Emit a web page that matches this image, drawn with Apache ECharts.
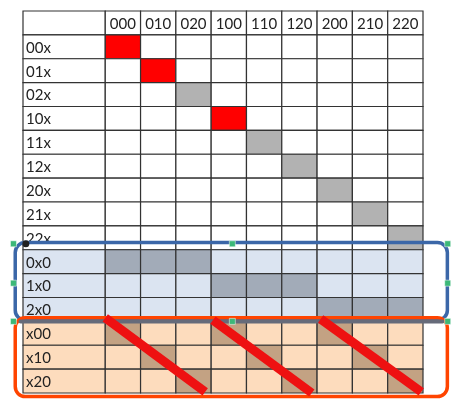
<!DOCTYPE html>
<html>
<head>
<meta charset="utf-8">
<script src="https://cdn.jsdelivr.net/npm/echarts@6/dist/echarts.min.js"></script>
<style>html,body{margin:0;padding:0;background:#fff}#main{width:460px;height:405px}</style>
</head>
<body>
<div id="main"></div>
<script>
// column headers and row labels of the table
var cols = ['000','010','020','100','110','120','200','210','220'];
var rows = ['00x','01x','02x','10x','11x','12x','20x','21x','22x','0x0','1x0','2x0','x00','x10','x20'];
// highlighted cells [row, col]
var redCells = [[0,0],[1,1],[3,3]];
var greyCells = [[2,2],[4,4],[5,5],[6,6],[7,7],[8,8]];
var blueDark = [[9,0],[9,1],[9,2],[10,3],[10,4],[10,5],[11,6],[11,7],[11,8]];
var orangeDark = [[12,0],[12,3],[12,6],[13,1],[13,4],[13,7],[14,2],[14,5],[14,8]];
// red strike lines [x0, y0, x1, y1] in table units
var strikes = [[0,12.85,2.83,15.95],[3.05,12.95,5.85,16.0],[6.1,12.9,8.95,15.95]];

var LABW = 2.33;
var cells = [];
function key(r,c){ return r+'_'+c; }
var colorMap = {};
redCells.forEach(function(p){ colorMap[key(p[0],p[1])] = '#ff0000'; });
greyCells.forEach(function(p){ colorMap[key(p[0],p[1])] = '#b2b2b2'; });
blueDark.forEach(function(p){ colorMap[key(p[0],p[1])] = '#a2abb8'; });
orangeDark.forEach(function(p){ colorMap[key(p[0],p[1])] = '#c3a283'; });
function bg(r){ return r >= 12 ? '#fddcbd' : (r >= 9 ? '#dbe4f1' : '#ffffff'); }

// header row (row index -1 → y 0..1)
cells.push([-LABW, 0, LABW, '', '#ffffff', 'l']);
cols.forEach(function(c,i){ cells.push([i, 0, 1, c, '#ffffff', 'c']); });
rows.forEach(function(r,ri){
  cells.push([-LABW, ri+1, LABW, r, bg(ri), 'l']);
  cols.forEach(function(c,ci){
    cells.push([ci, ri+1, 1, '', colorMap[key(ri,ci)] || bg(ri), 'c']);
  });
});

var chart = echarts.init(document.getElementById('main'));
var font = 'Lato, "Liberation Sans", sans-serif';

chart.setOption({
  animation: false,
  grid: {left: 23, right: 37, top: 11, bottom: 12},
  xAxis: {type: 'value', min: -LABW, max: 9, show: false},
  yAxis: {type: 'value', min: 0, max: 16, inverse: true, show: false},
  series: [
    {
      type: 'custom',
      clip: false,
      data: cells,
      renderItem: function(params, api){
        var x = api.value(0), y = api.value(1), w = api.value(2);
        var p0 = api.coord([x, y]), p1 = api.coord([x + w, y + 1]);
        var d = cells[params.dataIndex];
        var children = [{
          type: 'rect',
          shape: {x: p0[0], y: p0[1], width: p1[0]-p0[0], height: p1[1]-p0[1]},
          style: {fill: d[4], stroke: '#333', lineWidth: 1.2}
        }];
        if (d[3]) {
          children.push({
            type: 'text',
            style: {
              text: d[3], font: '15px ' + font, fill: '#222',
              x: d[5] === 'l' ? p0[0] + 3 : (p0[0]+p1[0])/2,
              y: (p0[1]+p1[1])/2 + 1,
              align: d[5] === 'l' ? 'left' : 'center', verticalAlign: 'middle'
            }
          });
        }
        return {type: 'group', children: children};
      }
    },
    {
      type: 'custom',
      clip: false,
      z: 5,
      data: [[0]],
      renderItem: function(params, api){
        function rr(x0,y0,x1,y1,color){
          var a = api.coord([x0,y0]), b = api.coord([x1,y1]);
          return {type:'rect', shape:{x:a[0],y:a[1],width:b[0]-a[0],height:b[1]-a[1],r:10},
            style:{fill:'none',stroke:color,lineWidth:3.5}};
        }
        var ch = [
          rr(-2.55, 9.7, 9.69, 12.95, '#3b67a8'),
          rr(-2.55, 12.85, 9.69, 16.15, '#ff4400')
        ];
        var a = api.coord([-2.4, 13.0]), b = api.coord([9.55, 13.0]);
        ch.push({type:'line', shape:{x1:a[0],y1:a[1],x2:b[0],y2:b[1]},
          style:{stroke:'#666b7a',lineWidth:4,lineCap:'round'}});
        strikes.forEach(function(s){
          var p = api.coord([s[0],s[1]]), q = api.coord([s[2],s[3]]);
          ch.push({type:'line', shape:{x1:p[0],y1:p[1],x2:q[0],y2:q[1]},
            style:{stroke:'#ee1111',lineWidth:9}});
        });
        // selection handles
        [[-2.6,9.75],[3.6,9.75],[9.7,9.75],[-2.6,11.4],[9.7,11.4],[-2.6,13.0],[3.6,13.0],[9.7,13.0]].forEach(function(h){
          var c = api.coord(h);
          ch.push({type:'rect', shape:{x:c[0]-3,y:c[1]-3,width:6,height:6},
            style:{fill:'#3cb878',stroke:'#fff',lineWidth:0.5}});
        });
        var dot = api.coord([-2.25, 9.75]);
        ch.push({type:'circle', shape:{cx:dot[0],cy:dot[1],r:3.5}, style:{fill:'#222'}});
        return {type:'group', children: ch};
      }
    }
  ]
});
</script>
</body>
</html>
